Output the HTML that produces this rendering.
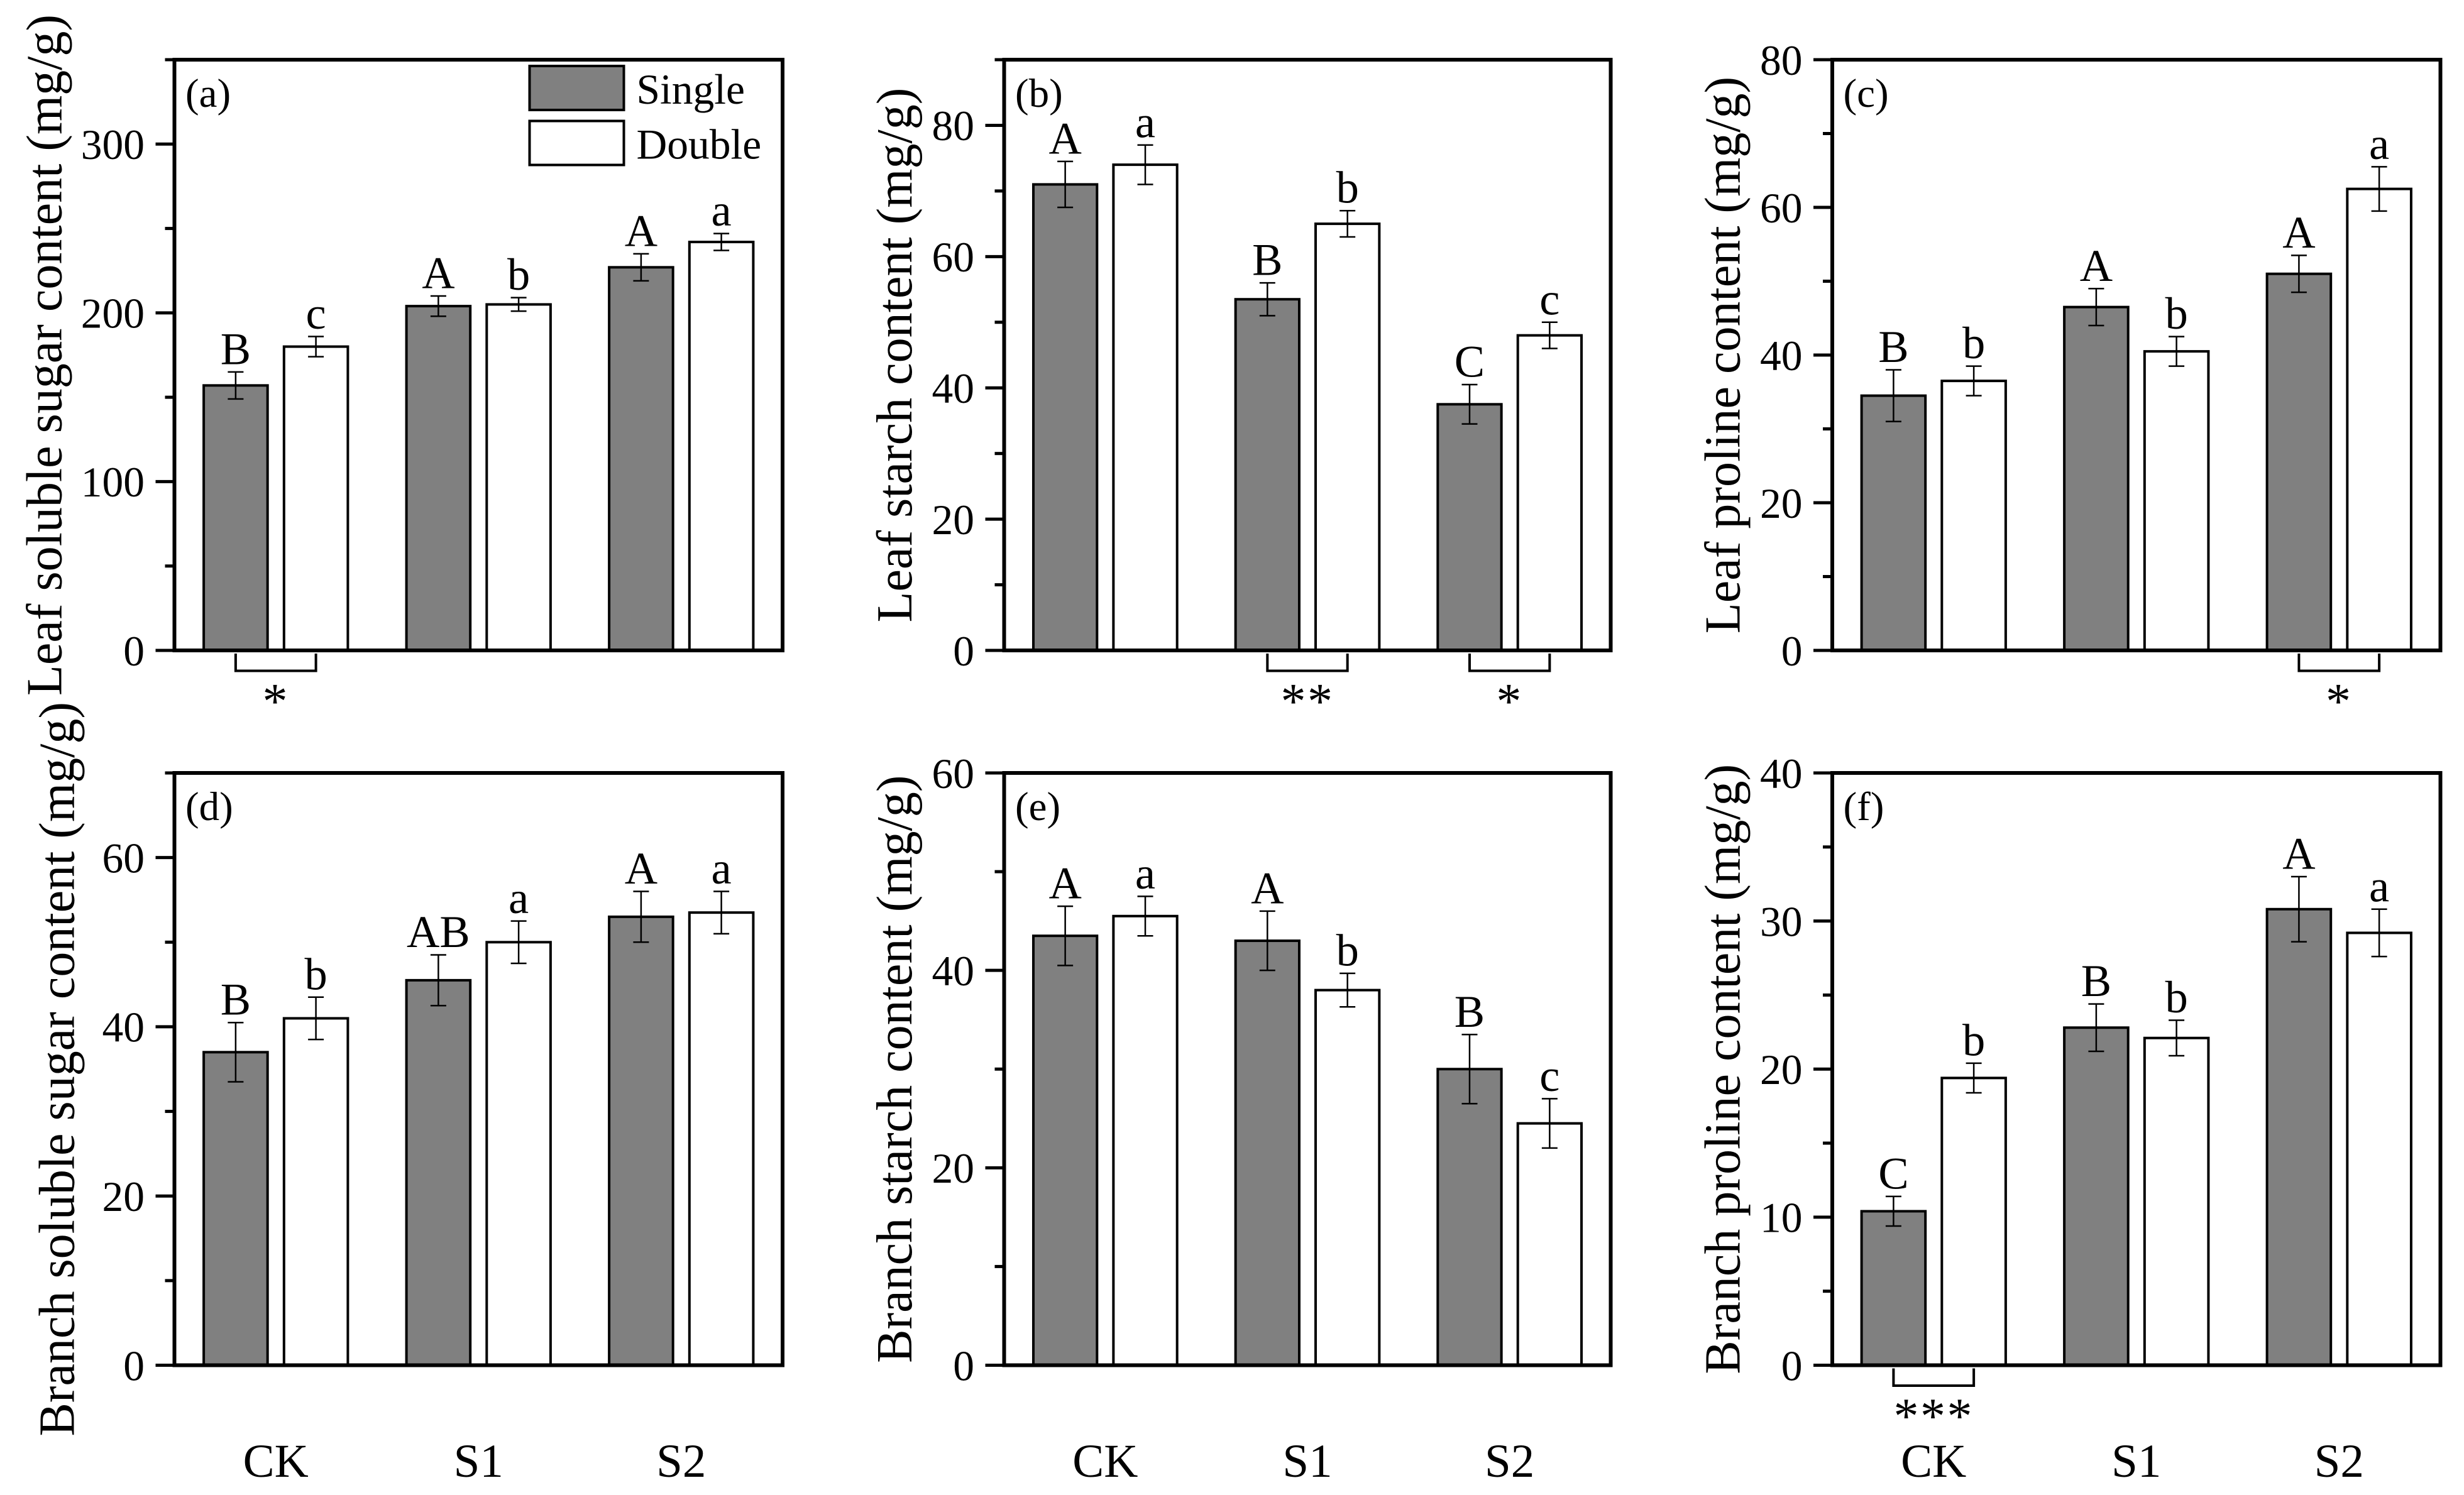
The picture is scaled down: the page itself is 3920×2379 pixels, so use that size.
<!DOCTYPE html>
<html><head><meta charset="utf-8"><style>
html,body{margin:0;padding:0;background:#fff}
svg{display:block}
text{font-family:"Liberation Serif",serif;fill:#000}
</style></head><body>
<svg id="fig" width="3920" height="2379" viewBox="0 0 1568 951.6" xmlns="http://www.w3.org/2000/svg"></svg>
<script>
const categories = ["CK","S1","S2"];
const panelLabels = ["(a)","(b)","(c)","(d)","(e)","(f)"];
const yTitles = ["Leaf soluble sugar content (mg/g)","Leaf starch content (mg/g)","Leaf proline content (mg/g)","Branch soluble sugar content (mg/g)","Branch starch content (mg/g)","Branch proline content (mg/g)"];
const yMax = [350,90,80,70,60,40];
const yMajor = [100,20,20,20,20,10];
const singleA = [157,204,227], singleErrA = [8,6,8], doubleA = [180,205,242], doubleErrA = [6,4,5];
const singleB = [71,53.5,37.5], singleErrB = [3.5,2.5,3], doubleB = [74,65,48], doubleErrB = [3,2,2];
const singleC = [34.5,46.5,51], singleErrC = [3.5,2.5,2.5], doubleC = [36.5,40.5,62.5], doubleErrC = [2,2,3];
const singleD = [37,45.5,53], singleErrD = [3.5,3,3], doubleD = [41,50,53.5], doubleErrD = [2.5,2.5,2.5];
const singleE = [43.5,43,30], singleErrE = [3,3,3.5], doubleE = [45.5,38,24.5], doubleErrE = [2,1.7,2.5];
const singleF = [10.4,22.8,30.8], singleErrF = [1,1.6,2.2], doubleF = [19.4,22.1,29.2], doubleErrF = [1,1.2,1.6];
const lettersSingle = [["B","A","A"],["A","B","C"],["B","A","A"],["B","AB","A"],["A","A","B"],["C","B","A"]];
const lettersDouble = [["c","b","a"],["a","b","c"],["b","b","a"],["b","a","a"],["a","b","c"],["b","b","a"]];
const sigMarks = [["*","",""],["","**","*"],["","","*"],["","",""],["","",""],["***","",""]];
const singles=[singleA,singleB,singleC,singleD,singleE,singleF];
const singleErrs=[singleErrA,singleErrB,singleErrC,singleErrD,singleErrE,singleErrF];
const doubles=[doubleA,doubleB,doubleC,doubleD,doubleE,doubleF];
const doubleErrs=[doubleErrA,doubleErrB,doubleErrC,doubleErrD,doubleErrE,doubleErrF];

const svg=document.getElementById('fig');
const NS="http://www.w3.org/2000/svg";
function mk(tag,attrs,parent){const e=document.createElementNS(NS,tag);for(const k in attrs)e.setAttribute(k,attrs[k]);(parent||svg).appendChild(e);return e;}
const frames=[[111,498,38,414],[639,1025,38,414],[1166,1553,38,414],[111,498,492,869],[639,1025,492,869],[1166,1553,492,869]];
const titleOff=[72,59,59,64,59,59];

frames.forEach((f,p)=>{
  const [L,R,T,B]=f;
  const g=mk('g',{});
  
  
  const W=R-L;
  const y=v=>B-(v/yMax[p])*(B-T);
  const xc=i=>L+W*(1+2*i)/6;
  const bw=W*0.105, off=W*0.066;
  for(let i=0;i<3;i++){
    [[singles[p],singleErrs[p],-1,'#808080','single',lettersSingle[p]],[doubles[p],doubleErrs[p],1,'#ffffff','double',lettersDouble[p]]].forEach(([vals,errs,s,fill,nm,lets])=>{
      const cx=xc(i)+s*off, v=vals[i], e=errs[i];
      const r=mk('rect',{x:cx-bw/2,y:y(v),width:bw,height:B-y(v),fill:fill,stroke:'#000','stroke-width':1.6},g);
      
      
      const eb=mk('path',{d:`M${cx},${y(v+e)}V${y(v-e)}M${cx-5},${y(v+e)}H${cx+5}M${cx-5},${y(v-e)}H${cx+5}`,stroke:'#000','stroke-width':1,fill:'none'},g);
      
      
      const t=mk('text',{x:cx,y:y(v+e)-5,'font-size':29,'text-anchor':'middle'},g);t.textContent=lets[i];
      
      
    });
    const sm=sigMarks[p][i];
    if(sm){
      const x1=xc(i)-off,x2=xc(i)+off;
      const br=mk('path',{d:`M${x1},${B+2}V${B+13}H${x2}V${B+2}`,stroke:'#000','stroke-width':1.6,fill:'none'},g);
      
      
      const st=mk('text',{x:(x1+x2)/2,y:B+43,'font-size':32,'text-anchor':'middle','letter-spacing':1},g);st.textContent=sm;
      
      
    }
  }
  const fr=mk('rect',{x:L,y:T,width:W,height:B-T,fill:'none',stroke:'#000','stroke-width':2.4},g);
  
  
  for(let v=0;v<=yMax[p]+1e-9;v+=yMajor[p]/2){
    const major=Math.abs(v/yMajor[p]-Math.round(v/yMajor[p]))<1e-6;
    mk('line',{x1:L-(major?12:6),x2:L,y1:y(v),y2:y(v),stroke:'#000','stroke-width':2},g);
    if(major){const t=mk('text',{x:L-19,y:y(v)+9.5,'font-size':27,'text-anchor':'end'},g);t.textContent=v;
      
      }
  }
  const yt=mk('text',{x:0,y:0,'font-size':32,'text-anchor':'middle',transform:`translate(${L-titleOff[p]},${(T+B)/2}) rotate(-90)`},g);
  yt.textContent=yTitles[p];
  
  
  const pl=mk('text',{x:L+7,y:T+30,'font-size':26},g);
  pl.textContent=panelLabels[p];
  
  
  if(p>=3){
    for(let i=0;i<3;i++){const t=mk('text',{x:xc(i),y:940,'font-size':30,'text-anchor':'middle'},g);t.textContent=categories[i];
      
      }
  }
});
const lg=mk('g',{});


mk('rect',{x:337,y:42,width:60,height:28,fill:'#808080',stroke:'#000','stroke-width':1.6},lg);
mk('rect',{x:337,y:77,width:60,height:28,fill:'#fff',stroke:'#000','stroke-width':1.6},lg);
const l1=mk('text',{x:405,y:66,'font-size':27},lg);l1.textContent='Single';


const l2=mk('text',{x:405,y:101,'font-size':27},lg);l2.textContent='Double';


</script>
</body></html>
